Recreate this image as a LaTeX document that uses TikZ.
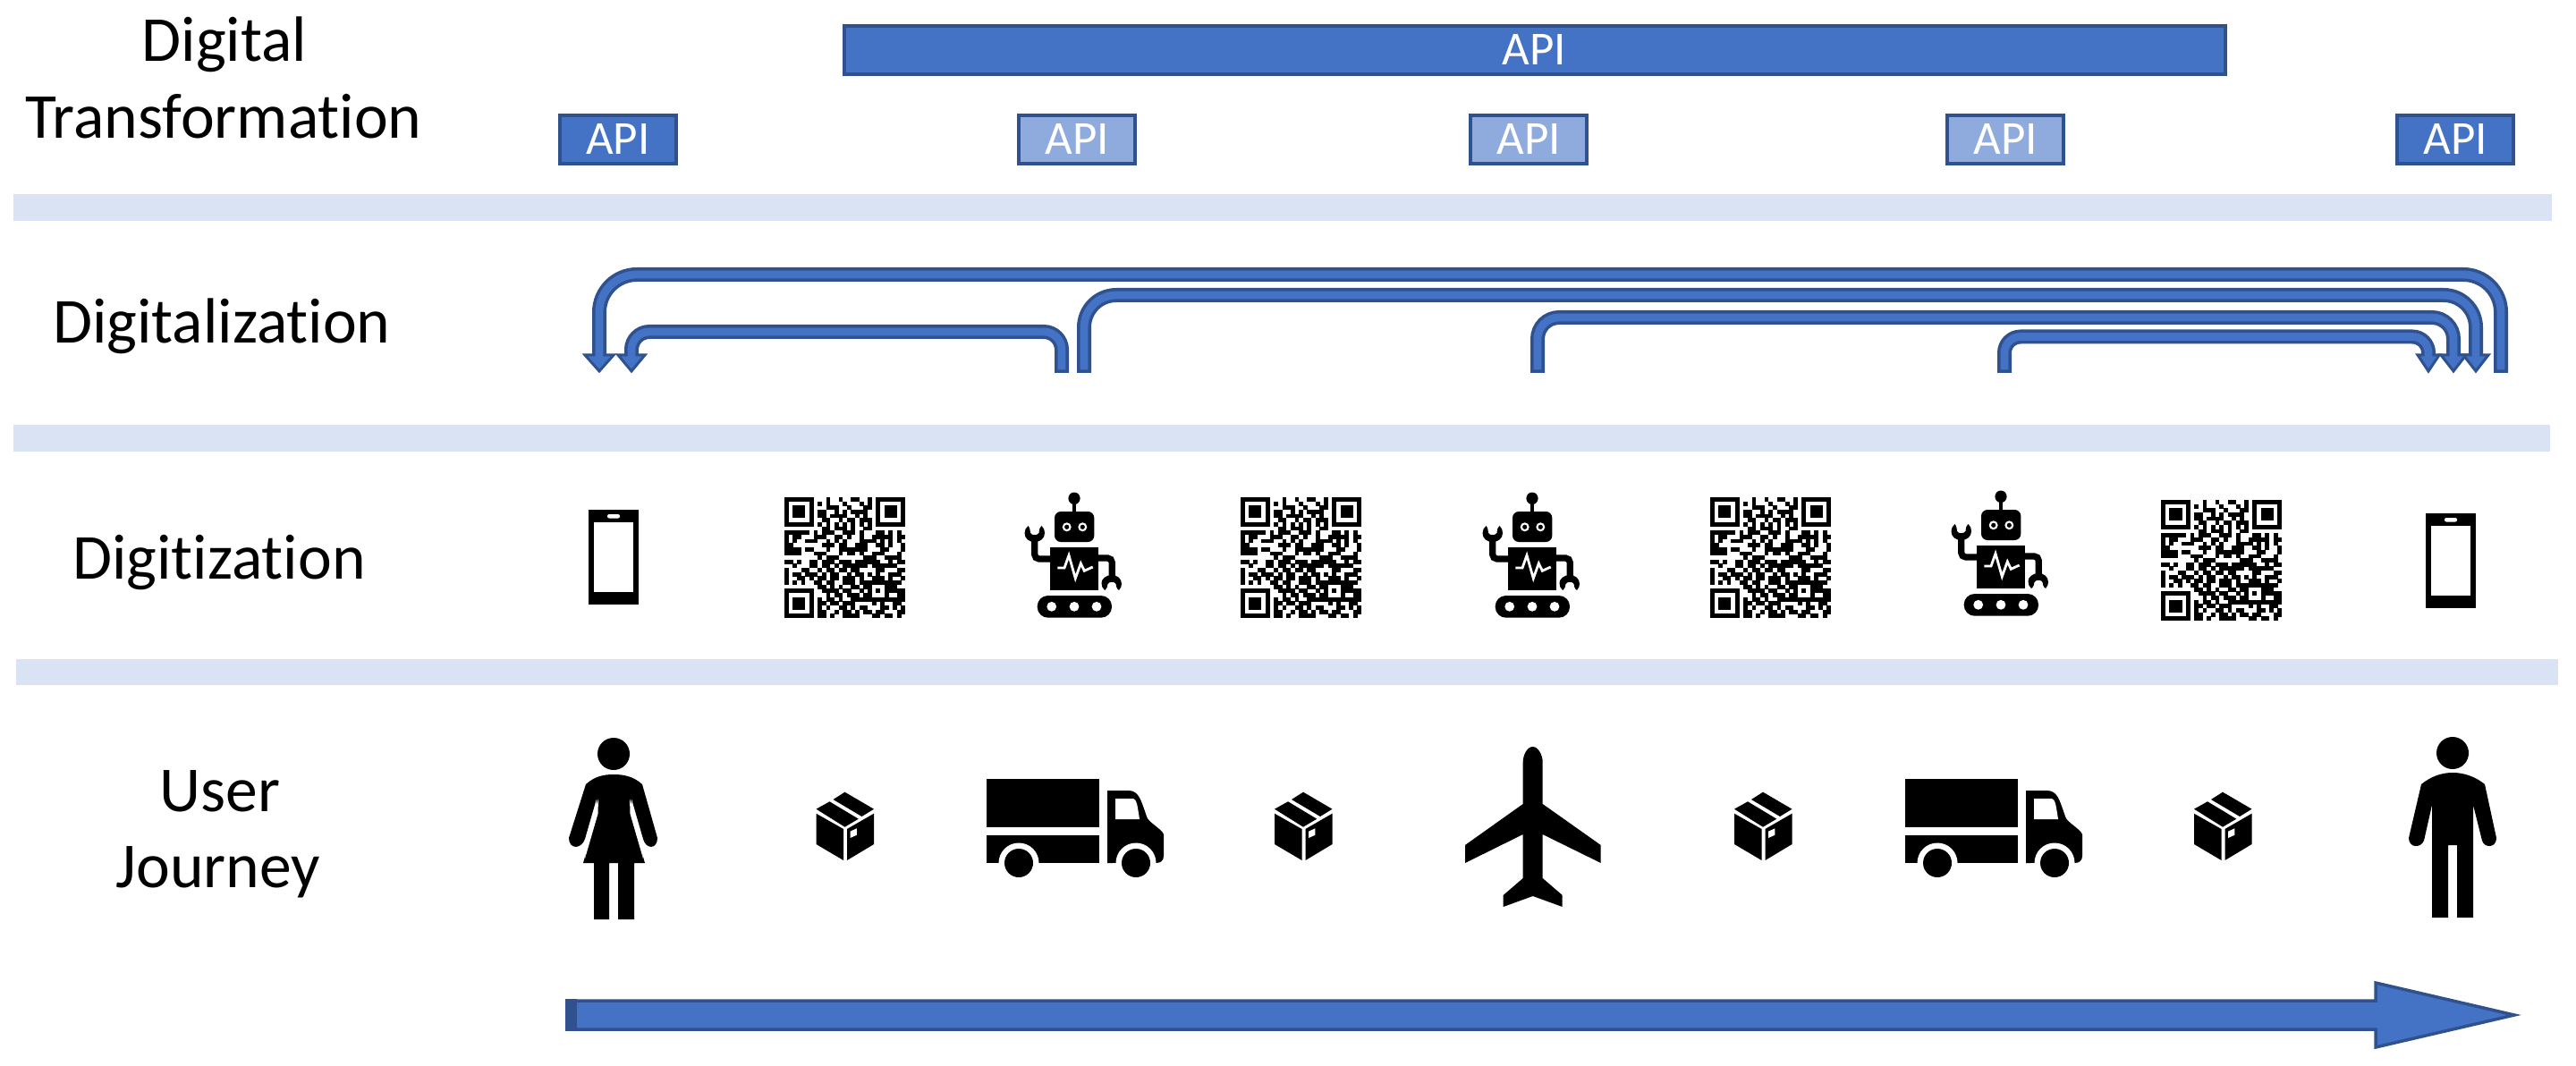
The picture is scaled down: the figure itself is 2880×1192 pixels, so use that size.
\documentclass[tikz,border=0pt]{standalone}
\usepackage{fontspec}
\setmainfont{Carlito}[Ligatures=NoCommon]
\usetikzlibrary{calc}
\definecolor{blueA}{HTML}{4472C4}
\definecolor{blueD}{HTML}{2F528F}
\definecolor{blueL}{HTML}{8FAADC}
\definecolor{bandC}{HTML}{DAE3F3}
\newcount\qrc \newcount\qrr
\def\qrcol#1{\ifx#1\relax\else\if#11\fill (\the\qrc*4.655,\the\qrr*4.655) rectangle +(4.85,4.85);\fi\advance\qrc by 1 \expandafter\qrcol\fi}
\def\qrrow#1{\qrc=0 \qrcol#1\relax\advance\qrr by 1 }
\tikzset{
  bandbar/.style={fill=bandC,draw=none},
  apidark/.style={draw=blueD,fill=blueA,line width=2pt,text=white,font=\fontsize{26.5}{26.5}\selectfont,minimum width=65pt,minimum height=27pt,inner sep=0pt,anchor=center,text depth=0pt},
  apilight/.style={apidark,fill=blueL},
  apiwide/.style={apidark,minimum width=772pt},
  rowlabel/.style={anchor=base,font=\fontsize{35.8}{35.8}\selectfont,inner sep=0pt,text=black},
  pipeout/.style={draw=blueD,line width=8pt,line cap=butt},
  pipein/.style={draw=blueA,line width=4.4pt,line cap=butt},
  pipehead/.style={draw=blueD,fill=blueA,line width=1.5pt,line join=miter},
  tailtip/.style={draw=none,fill=blueD},
  qrcode/.pic={
    \qrr=0
    \qrrow{1111111 0 0010010011001 0 1111111}
    \qrrow{1000001 0 1010001000101 0 1000001}
    \qrrow{1011101 0 0011100100011 0 1011101}
    \qrrow{1011101 0 1100101011110 0 1011101}
    \qrrow{1011101 0 1101111001010 0 1011101}
    \qrrow{1000001 0 0110010110111 0 1000001}
    \qrrow{1111111 0 1010101010101 0 1111111}
    \qrrow{00000000 0110111010011 00000000}
    \qrrow{11111101 0111001110100 01101010}
    \qrrow{10110001 1100110100100 11111011}
    \qrrow{10100111 0010101000111 10101010}
    \qrrow{11000000 0111011001110 01101001}
    \qrrow{11110110 0010011111110 00110001}
    \qrrow{11110001 1100010110100 11100010}
    \qrrow{00000000 1011100000011 10011110}
    \qrrow{11010011 0111011101111 11001011}
    \qrrow{00100011 0110101111110 11111100}
    \qrrow{10001100 1011011011000 01100011}
    \qrrow{10110111 0101100101101 01001110}
    \qrrow{10011010 1101101110100 11101001}
    \qrrow{10101001 1011001110111 11111110}
    \qrrow{00000000 1101010011011 00011100}
    \qrrow{11111110 0111101100101 01011111}
    \qrrow{10000010 0010110111011 00010011}
    \qrrow{10111010 1011010011111 11111111}
    \qrrow{10111010 1101101110000 10100110}
    \qrrow{10111010 1010011010110 00110101}
    \qrrow{10000010 1100101101011 01100011}
    \qrrow{11111110 1101001111000 11011010}
  },
  phoneicon/.pic={
    \fill (0,0) rectangle (56,106);
    \fill[white] (6,14) rectangle (50,92);
    \fill[white,rounded corners=1pt] (21,5) rectangle (35,9.5);
  },
  roboticon/.pic={
    \draw[line width=1.7pt] (76,17) -- (76,34);
    \fill (76,17.3) ellipse (6.6 and 6.8);
    \fill[rounded corners=3.5pt] (54,32) rectangle (98.3,66);
    \foreach \ex in {67.7,85.3}{
      \fill[white] (\ex,49.3) circle (5);
      \fill (\ex,49.3) circle (2.6);
    }
    \fill (48.7,72.3) rectangle (103.3,120);
    \draw[white,line width=1.4pt,line join=miter] (57.3,95) -- (65,95) -- (70,81) -- (77.3,106.7) -- (83.3,90) -- (87.3,98.3) -- (96.7,94);
    \fill[rounded corners=6pt] (34.7,126) rectangle (118,150.7);
    \foreach \wx in {50.7,76,101}{\fill[white] (\wx,138.3) circle (5.4);}
    \draw[line width=3.6pt,rounded corners=2.5pt] (50,85) -- (31.7,85) -- (31.7,60);
    \fill (20.5,56) .. controls (20.5,53) and (22,50) .. (24.5,48) .. controls (27,51) and (26.5,54) .. (27,56) .. controls (28,59) and (35,59) .. (36.5,56) .. controls (37,53) and (36.5,51) .. (39.5,48) .. controls (42,50) and (43,53) .. (43,56) .. controls (43,62) and (38,66) .. (31.7,66) .. controls (25,66) and (20.5,62) .. (20.5,56) -- cycle;
    \draw[line width=3.6pt,rounded corners=2.5pt] (102,84) -- (118.3,84) -- (118.3,106);
    \fill (106.5,112) .. controls (106.5,107) and (112,103) .. (118,103) .. controls (124,103) and (129,107) .. (129,113) .. controls (129,115) and (128,118) .. (126,120) .. controls (123,118) and (123,115) .. (122.5,113) .. controls (121.5,110) and (114.5,110) .. (113.5,113) .. controls (113,115) and (113,118) .. (110,120) .. controls (107.5,118) and (106.5,115) .. (106.5,112) -- cycle;
  },
  boxicon/.pic={
    \fill (0,-38.3) -- (32.5,-19.3) -- (19,-11) -- (-13,-30) -- cycle;
    \fill (-17,-27.7) -- (15.3,-8.3) -- (0,0.7) -- (-32,-19.3) -- cycle;
    \fill (-32,-14.3) -- (-1.5,3) -- (-1.5,38) -- (-32,20) -- cycle;
    \fill (2.5,3) -- (32.5,-14.3) -- (32.5,20) -- (2.5,38) -- cycle;
    \fill[white] (6,5.7) -- (13.4,2.3) -- (13.4,9.7) -- (6,13) -- cycle;
  },
  truckicon/.pic={
    \fill (0,0) rectangle (126,54);
    \fill (0,63) rectangle (126,94);
    \fill (135,13) -- (158,13) .. controls (170,13) and (172,22) .. (179,42) .. controls (180,48) and (196,56) .. (198,62) -- (198,86) .. controls (198,92) and (194,94) .. (189,94) -- (135,94) -- cycle;
    \fill[white] (144,22) -- (164,22) .. controls (168,24) and (168,26) .. (171,45) -- (144,45) -- cycle;
    \fill[white] (36,94) circle (22.5);
    \fill[white] (167,94) circle (22.5);
    \fill[white] (10,94) rectangle (62,120);
    \fill[white] (141,94) rectangle (193,120);
    \fill (36,94) circle (16);
    \fill (167,94) circle (16);
  },
}
\newcommand\bentarrow[5]{%
  \draw[pipeout,rounded corners=#4] (#1) -- (#1 |- #3) -- (#2 |- #3) -- ($(#2)+(0,-17)$);
  \draw[pipehead] (#2) -- ($(#2)+(#5,-18)$) -- ($(#2)+(-#5,-18)$) -- cycle;
  \draw[pipein,rounded corners=#4,shorten <=1.75pt] (#1) -- (#1 |- #3) -- (#2 |- #3) -- ($(#2)+(0,-14)$);
}
\begin{document}
\begin{tikzpicture}[x=0.5pt,y=-0.5pt]
\useasboundingbox (0,0) rectangle (2880,1192);
% bands
\path[bandbar] (15,217) rectangle (2853,247);
\path[bandbar] (15,475) rectangle (2851,505);
\path[bandbar] (18,737) rectangle (2860,766);
% labels
\node[rowlabel] (lDigital) at (251,69) {Digital};
\node[rowlabel] (lTransf) at (250,155) {Transformation};
\node[rowlabel] (lDigitalization) at (248,384) {Digitalization};
\node[rowlabel] (lDigitization) at (245,647) {Digitization};
\node[rowlabel] (lUser) at (246,907) {User};
\node[rowlabel] (lJourney) at (244,992) {Journey};
% API boxes
\node[apiwide] (apiTop) at (1715.5,56) {API};
\node[apidark] (api1) at (691,156) {API};
\node[apilight] (api2) at (1204,156) {API};
\node[apilight] (api3) at (1709,156) {API};
\node[apilight] (api4) at (2242,156) {API};
\node[apidark] (api5) at (2745,156) {API};
% bent arrows
\coordinate (t1a) at (2796,417); \coordinate (h1a) at (670,415); \coordinate (y1) at (0,307);
\coordinate (t1b) at (1187,417); \coordinate (h1b) at (706,415); \coordinate (y2) at (0,371);
\coordinate (t2) at (1212,417);  \coordinate (h2) at (2768,415); \coordinate (y3) at (0,330);
\coordinate (t3) at (1719,417);  \coordinate (h3) at (2743,415); \coordinate (y4) at (0,355);
\coordinate (t4) at (2241,417);  \coordinate (h4) at (2715,415); \coordinate (y5) at (0,376.5);
\bentarrow{t1a}{h1a}{y1}{21pt}{16}
\bentarrow{t1b}{h1b}{y2}{10pt}{15}
\bentarrow{t4}{h4}{y5}{9pt}{12}
\bentarrow{t3}{h3}{y4}{12pt}{14}
\bentarrow{t2}{h2}{y3}{18pt}{14}
% digitization row
\pic (phone1) at (658,570) {phoneicon};
\pic (phone2) at (2712,574) {phoneicon};
\pic (qr1) at (877,556) {qrcode};
\pic (qr2) at (1387,556) {qrcode};
\pic (qr3) at (1912,556) {qrcode};
\pic (qr4) at (2416,559) {qrcode};
\pic (robot1) at (1125,540) {roboticon};
\pic (robot2) at (1637,540) {roboticon};
\pic (robot3) at (2161,538) {roboticon};
% journey row
\fill (686,843) circle (18);
\fill (655,877) .. controls (665,868) and (675,866) .. (686,866) .. controls (697,866) and (708,868) .. (718,877)
  -- (735,937) .. controls (735,950) and (722,950) .. (719,938) -- (706,893) -- (705,910) -- (721,965) -- (709,965) -- (709,1028) -- (691,1028) -- (691,965) -- (681,965) -- (681,1028) -- (664,1028) -- (664,965) -- (652,965) -- (668,910) -- (667,893) -- (654,938) .. controls (650,950) and (636,950) .. (636,937) -- cycle;
\fill[white] (669,893) -- (668.5,910) -- (654,960) -- (656,940) -- cycle;
\fill[white] (704,893) -- (704.5,910) -- (719,960) -- (717,940) -- cycle;
\fill (2742,842) circle (18);
\fill (2707,877) .. controls (2718,868) and (2730,864) .. (2742,864) .. controls (2754,864) and (2767,868) .. (2778,877)
  -- (2791,937) .. controls (2791,948) and (2778,949) .. (2775,940) -- (2765,900) -- (2765,1026) -- (2747,1026) -- (2747,945) -- (2737,945) -- (2737,1026) -- (2719,1026) -- (2719,900) -- (2710,940) .. controls (2706,949) and (2693,948) .. (2693,937) -- cycle;
\pic (box1) at (944.5,924) {boxicon};
\pic (box2) at (1457,924) {boxicon};
\pic (box3) at (1971,924) {boxicon};
\pic (box4) at (2485,924) {boxicon};
\pic (truck1) at (1103,871) {truckicon};
\pic (truck2) at (2130,871) {truckicon};
% plane
\fill (1713.7,835) .. controls (1707,835) and (1702.7,845) .. (1702.7,852) -- (1702.7,899) -- (1638,945) -- (1638,965) -- (1702.7,933) -- (1702.7,982) -- (1680.7,1001) -- (1680.7,1014) -- (1713.7,1002) -- (1746.7,1014) -- (1746.7,1001) -- (1724.7,982) -- (1724.7,933) -- (1789.7,965) -- (1789.7,945) -- (1724.7,899) -- (1724.7,852) .. controls (1724.7,845) and (1720,835) .. (1713.7,835) -- cycle;
% long arrow
\draw[draw=blueD,fill=blueA,line width=1.75pt,line join=miter] (634,1119) -- (2656,1119) -- (2656,1099) -- (2811,1135) -- (2656,1171) -- (2656,1151) -- (634,1151) -- cycle;
\path[tailtip] (632,1117) rectangle (645,1153);
\end{tikzpicture}
\end{document}
